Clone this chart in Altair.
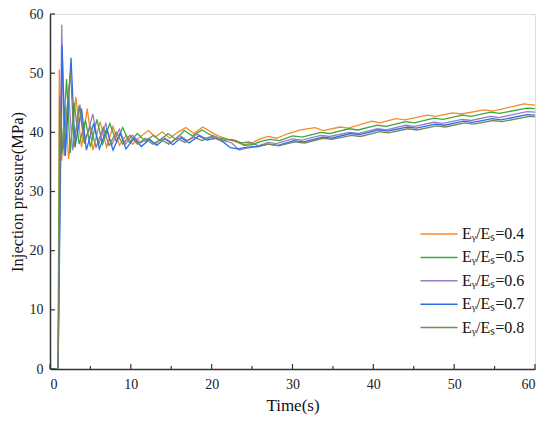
import altair as alt
import pandas as pd

series_names = ["Eᵧ/Eₛ=0.4", "Eᵧ/Eₛ=0.5", "Eᵧ/Eₛ=0.6", "Eᵧ/Eₛ=0.7", "Eᵧ/Eₛ=0.8"]
series_colors = ["#F8882A", "#3AAA3A", "#9A7CC4", "#2A6EEA", "#77875A"]

t_04 = [0, 1.0, 1.15, 1.45, 1.9, 2.3, 3.2, 3.9, 4.6, 5.3, 6.2, 7.0, 7.8, 8.6, 9.4, 10.2, 11.2, 12.2, 13.0, 13.9, 14.8, 15.8, 16.8, 17.8, 18.9, 20.0, 21.0, 22.0, 23.0, 24.0, 25.0, 26.0, 27.0, 28.0, 29.5, 31.0, 32.8, 33.8, 35.9, 36.9, 39.8, 40.8, 42.8, 43.9, 46.7, 47.7, 49.8, 50.9, 53.7, 54.8, 58.6, 60]
p_04 = [0, 0, 50.6, 35.2, 44.5, 35.5, 46.0, 37.5, 44.0, 37.0, 41.8, 37.5, 41.0, 37.8, 39.5, 38.0, 39.3, 40.3, 39.2, 40.1, 39.0, 40.0, 40.8, 39.8, 40.9, 40.0, 39.3, 38.8, 38.4, 37.9, 38.2, 38.9, 39.3, 39.0, 39.8, 40.4, 40.8, 40.3, 40.9, 40.7, 41.9, 41.6, 42.3, 42.1, 42.9, 42.7, 43.3, 43.1, 43.8, 43.6, 44.8, 44.6]

t_05 = [0, 1.0, 1.2, 1.5, 2.05, 2.5, 3.0, 3.6, 4.4, 5.0, 5.8, 6.5, 7.4, 8.2, 9.0, 9.8, 10.8, 11.8, 12.8, 13.6, 14.6, 15.6, 16.6, 17.6, 18.8, 19.8, 21.0, 22.0, 23.0, 24.0, 25.0, 26.2, 27.2, 28.4, 30.0, 31.2, 33.5, 34.6, 37.0, 38.1, 40.5, 41.6, 44.0, 45.1, 47.5, 48.6, 51.0, 52.1, 54.5, 55.6, 59.0, 60]
p_05 = [0, 0, 46.0, 36.5, 49.0, 36.5, 45.0, 38.0, 42.0, 37.5, 42.2, 38.0, 41.5, 38.5, 40.8, 38.3, 39.8, 38.5, 39.5, 38.6, 39.8, 38.8, 40.3, 39.4, 40.4, 39.6, 39.0, 38.8, 38.6, 37.8, 37.9, 38.5, 38.8, 38.6, 39.4, 39.2, 40.0, 39.8, 40.6, 40.4, 41.2, 41.0, 41.8, 41.6, 42.4, 42.2, 42.9, 42.7, 43.4, 43.2, 44.1, 44.0]

t_06 = [0, 1.0, 1.45, 1.75, 2.3, 2.8, 3.7, 4.3, 5.3, 6.0, 6.9, 7.6, 8.6, 9.3, 10.2, 11.2, 12.2, 13.0, 14.0, 15.0, 16.0, 17.0, 18.2, 19.2, 20.3, 21.5, 22.5, 23.4, 24.2, 25.5, 27.0, 28.0, 30.0, 31.2, 33.5, 34.6, 37.0, 38.1, 40.5, 41.6, 44.0, 45.1, 47.5, 48.6, 51.0, 52.1, 54.5, 55.6, 59.0, 60]
p_06 = [0, 0, 58.2, 36.0, 46.5, 37.0, 44.7, 38.0, 43.1, 37.8, 41.5, 37.8, 40.5, 38.0, 39.5, 38.2, 39.0, 38.0, 39.2, 38.3, 39.5, 38.6, 39.7, 39.0, 39.4, 38.6, 38.2, 37.0, 37.3, 37.6, 38.3, 38.1, 38.9, 38.7, 39.5, 39.3, 40.0, 39.8, 40.6, 40.4, 41.2, 41.0, 41.7, 41.5, 42.2, 42.0, 42.7, 42.5, 43.5, 43.4]

t_07 = [0, 1.0, 1.5, 1.9, 2.6, 3.1, 3.9, 4.5, 5.4, 6.1, 7.0, 7.8, 8.7, 9.4, 10.4, 11.3, 12.3, 13.2, 14.2, 15.2, 16.2, 17.2, 18.4, 19.4, 20.5, 21.5, 22.3, 23.2, 24.5, 25.8, 27.0, 28.2, 30.2, 31.4, 33.7, 34.8, 37.2, 38.3, 40.7, 41.8, 44.2, 45.3, 47.7, 48.8, 51.2, 52.3, 54.7, 55.8, 59.0, 60]
p_07 = [0, 0, 54.7, 36.0, 52.6, 37.5, 44.0, 37.0, 41.5, 37.2, 40.5, 37.0, 39.8, 37.2, 39.0, 37.6, 38.8, 37.8, 38.9, 37.9, 39.1, 38.2, 39.4, 38.7, 39.0, 38.3, 37.4, 37.2, 37.5, 37.6, 38.0, 37.8, 38.6, 38.4, 39.2, 39.0, 39.8, 39.6, 40.4, 40.2, 40.9, 40.7, 41.4, 41.2, 41.9, 41.7, 42.3, 42.1, 43.0, 42.9]

t_08 = [0, 1.0, 1.3, 1.6, 2.55, 3.0, 3.6, 4.2, 5.0, 5.7, 6.6, 7.3, 8.2, 9.0, 9.9, 10.8, 11.8, 12.7, 13.7, 14.7, 15.7, 16.7, 17.8, 18.8, 20.0, 21.2, 22.4, 23.7, 24.6, 25.8, 27.0, 28.3, 30.3, 31.5, 33.8, 34.9, 37.3, 38.4, 40.8, 41.9, 44.3, 45.4, 47.8, 48.9, 51.3, 52.4, 54.8, 55.9, 59.3, 60]
p_08 = [0, 0, 44.0, 37.0, 50.3, 37.5, 44.5, 38.5, 41.0, 37.5, 40.8, 37.8, 40.0, 38.0, 39.5, 38.0, 39.0, 38.0, 38.8, 38.0, 39.0, 38.3, 39.2, 38.6, 39.2, 38.6, 38.8, 38.2, 38.4, 37.7, 38.0, 37.7, 38.4, 38.2, 39.0, 38.8, 39.5, 39.3, 40.1, 39.9, 40.6, 40.4, 41.1, 40.9, 41.6, 41.4, 42.0, 41.8, 42.7, 42.6]

x_major_ticks = [0, 10, 20, 30, 40, 50, 60]
x_minor_ticks = [5, 15, 25, 35, 45, 55]
y_major_ticks = [0, 10, 20, 30, 40, 50, 60]

all_t = [t_04, t_05, t_06, t_07, t_08]
all_p = [p_04, p_05, p_06, p_07, p_08]

rows = []
for k, (name, ts, ps) in enumerate(zip(series_names, all_t, all_p)):
    for i, (t, p) in enumerate(zip(ts, ps)):
        rows.append({"series": name, "order": k, "i": i, "t": t, "p": p})
df = pd.DataFrame(rows)

FONT = "Liberation Serif, Times New Roman, serif"
W, H = 485, 355

xscale = alt.Scale(domain=[0, 60], nice=False, zero=False)
yscale = alt.Scale(domain=[0, 60], nice=False, zero=False)

lines = alt.Chart(df).mark_line(strokeWidth=1.3, clip=True).encode(
    x=alt.X("t:Q", scale=xscale, title="Time(s)",
            axis=alt.Axis(values=x_major_ticks, ticks=False, labelPadding=8,
                          labelFontSize=14, titleFontSize=17, titlePadding=6,
                          labelFont=FONT, titleFont=FONT, titleFontWeight="normal",
                          grid=False, domainColor="#333333", domainWidth=1.5,
                          labelColor="#222222", titleColor="#111111")),
    y=alt.Y("p:Q", scale=yscale, title="Injection pressure(MPa)",
            axis=alt.Axis(values=y_major_ticks, ticks=False, labelPadding=7,
                          labelFontSize=14, titleFontSize=16.5, titlePadding=4,
                          labelFont=FONT, titleFont=FONT, titleFontWeight="normal",
                          grid=False, domainColor="#333333", domainWidth=1.5,
                          labelColor="#222222", titleColor="#111111")),
    color=alt.Color("series:N", sort=series_names,
                    scale=alt.Scale(domain=series_names, range=series_colors),
                    legend=alt.Legend(title=None, orient="none", legendX=378, legendY=209,
                                      symbolType="M-1.85,0H1.85", symbolSize=400,
                                      symbolStrokeWidth=1.5, labelFont=FONT,
                                      labelFontSize=16, labelOffset=12, rowPadding=4.4,
                                      padding=0, labelColor="#111111")),
    detail="series:N",
    order="i:Q",
)

tick_major_x = alt.Chart(pd.DataFrame({"v": x_major_ticks})).mark_rule(
    color="#333333", strokeWidth=1.2).encode(
    x=alt.X("v:Q", scale=xscale), y=alt.value(H), y2=alt.value(H - 5))
tick_minor_x = alt.Chart(pd.DataFrame({"v": x_minor_ticks})).mark_rule(
    color="#333333", strokeWidth=1.2).encode(
    x=alt.X("v:Q", scale=xscale), y=alt.value(H), y2=alt.value(H - 3))
tick_major_y = alt.Chart(pd.DataFrame({"v": y_major_ticks})).mark_rule(
    color="#333333", strokeWidth=1.2).encode(
    y=alt.Y("v:Q", scale=yscale), x=alt.value(0), x2=alt.value(5))

chart = alt.layer(lines, tick_major_x, tick_minor_x, tick_major_y).properties(
    width=W, height=H,
    autosize=alt.AutoSizeParams(type="none"),
    padding={"left": 42, "top": 6, "right": 7, "bottom": 46},
).configure_view(stroke="#333333", strokeWidth=1.5).configure(background="white")

chart.save("out.html", embed_options={"renderer": "svg", "actions": False})
